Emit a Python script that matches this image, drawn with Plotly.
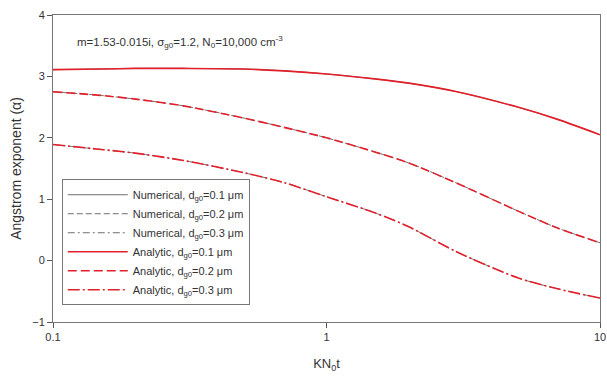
import plotly.graph_objects as go

kn0t = [0.1, 0.15, 0.2, 0.3, 0.5, 0.7, 1, 1.5, 2, 3, 5, 7, 10]

num_d01 = [3.11, 3.12, 3.13, 3.13, 3.12, 3.09, 3.04, 2.96, 2.89, 2.75, 2.50, 2.30, 2.05]
num_d02 = [2.75, 2.69, 2.63, 2.52, 2.32, 2.17, 2.00, 1.77, 1.59, 1.26, 0.81, 0.53, 0.29]
num_d03 = [1.89, 1.81, 1.75, 1.63, 1.43, 1.27, 1.04, 0.78, 0.55, 0.14, -0.28, -0.46, -0.61]

ana_d01 = [3.11, 3.12, 3.13, 3.13, 3.12, 3.09, 3.04, 2.96, 2.89, 2.75, 2.50, 2.30, 2.05]
ana_d02 = [2.75, 2.69, 2.63, 2.52, 2.32, 2.17, 2.00, 1.77, 1.59, 1.26, 0.81, 0.53, 0.29]
ana_d03 = [1.89, 1.81, 1.75, 1.63, 1.43, 1.27, 1.04, 0.78, 0.55, 0.14, -0.28, -0.46, -0.61]

x_ticks = [0.1, 1, 10]
x_tick_labels = ["0.1", "1", "10"]
y_ticks = [-1, 0, 1, 2, 3, 4]

FONT = "Arial, Liberation Sans, sans-serif"
GRAY = "#6e6e6e"
RED = "#e2202c"

fig = go.Figure()

series = [
    ("Numerical, d<sub>g0</sub>=0.1 μm", num_d01, GRAY, "solid", 1),
    ("Numerical, d<sub>g0</sub>=0.2 μm", num_d02, GRAY, "6px,3px", 1),
    ("Numerical, d<sub>g0</sub>=0.3 μm", num_d03, GRAY, "7px,3px,2px,3px", 1),
    ("Analytic, d<sub>g0</sub>=0.1 μm", ana_d01, RED, "solid", 1.6),
    ("Analytic, d<sub>g0</sub>=0.2 μm", ana_d02, RED, "9px,4px", 1.6),
    ("Analytic, d<sub>g0</sub>=0.3 μm", ana_d03, RED, "12px,3px,2px,3px", 1.6),
]
for name, ys, col, dash, w in series:
    fig.add_trace(go.Scatter(
        x=kn0t, y=ys, mode="lines", name=name,
        line=dict(color=col, dash=dash, width=w, shape="spline", smoothing=0.8),
    ))

fig.update_layout(
    width=607, height=377,
    margin=dict(l=53, r=7, t=15, b=55),
    paper_bgcolor="white", plot_bgcolor="white",
    font=dict(family=FONT, size=11, color="#333333"),
    showlegend=True,
    legend=dict(
        x=0.016, y=0.465, xanchor="left", yanchor="top",
        bgcolor="white", bordercolor="#777777", borderwidth=1,
        font=dict(family=FONT, size=11, color="#333333"),
        itemwidth=60, tracegroupgap=0,
    ),
    annotations=[dict(
        xref="paper", yref="paper", x=0.04, y=0.912,
        xanchor="left", yanchor="middle", showarrow=False,
        text="m=1.53-0.015i, σ<sub>g0</sub>=1.2, N<sub>0</sub>=10,000 cm<sup>-3</sup>",
        font=dict(family=FONT, size=11.5, color="#333333"),
    )],
)

fig.update_xaxes(
    type="log", range=[-1, 1], automargin=False,
    tickvals=x_ticks, ticktext=x_tick_labels,
    ticks="outside", ticklen=5, tickcolor="#555555",
    showline=True, linecolor="#777777", linewidth=1, mirror=True,
    showgrid=False, zeroline=False,
    tickfont=dict(size=11, color="#333333"),
    title=dict(text="KN<sub>0</sub>t", font=dict(size=13, color="#333333"), standoff=16),
)
fig.update_yaxes(
    range=[-1, 4], tickvals=y_ticks, automargin=False,
    ticks="outside", ticklen=5, tickcolor="#555555",
    showline=True, linecolor="#777777", linewidth=1, mirror=True,
    showgrid=False, zeroline=False,
    tickfont=dict(size=11, color="#333333"),
    title=dict(text="Angstrom exponent (α)", font=dict(size=14, color="#333333"), standoff=7),
)

fig.write_html(
    "out.html",
    config={"displayModeBar": False},
    post_script="document.body.style.margin='0px';document.body.style.overflow='hidden';",
)
